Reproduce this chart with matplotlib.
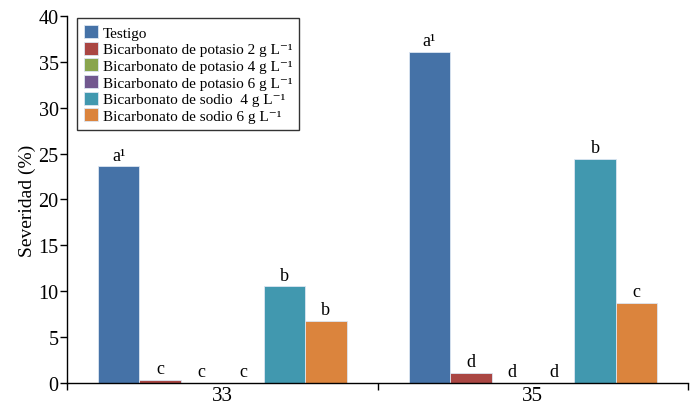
import numpy as np
import matplotlib
matplotlib.use("Agg")
import matplotlib.pyplot as plt

plt.rcParams['font.family'] = ['Liberation Serif', 'DejaVu Serif']

categories = ["33", "35"]
series_names = [
    "Testigo",
    "Bicarbonato de potasio 2 g L\u207b\u00b9",
    "Bicarbonato de potasio 4 g L\u207b\u00b9",
    "Bicarbonato de potasio 6 g L\u207b\u00b9",
    "Bicarbonato de sodio  4 g L\u207b\u00b9",
    "Bicarbonato de sodio 6 g L\u207b\u00b9",
]
testigo = [23.6, 36.1]
potasio_2 = [0.35, 1.1]
potasio_4 = [0.0, 0.0]
potasio_6 = [0.0, 0.0]
sodio_4 = [10.55, 24.4]
sodio_6 = [6.8, 8.75]
letters = [
    ["a\u00b9", "a\u00b9"],
    ["c", "d"],
    ["c", "d"],
    ["c", "d"],
    ["b", "b"],
    ["b", "c"],
]
colors = ["#4572A7", "#AA4643", "#89A54E", "#71588F", "#4198AF", "#DB843D"]

values = [testigo, potasio_2, potasio_4, potasio_6, sodio_4, sodio_6]

fig = plt.figure(figsize=(6.98, 4.10), dpi=100)
ax = fig.add_axes([0.096, 0.063, 0.890, 0.896])

x = np.arange(len(categories))
width = 0.8 / len(values)
for i, (vals, name, col) in enumerate(zip(values, series_names, colors)):
    pos = x - 0.4 + width * (i + 0.5)
    ax.bar(pos, vals, width, color=col, edgecolor="#dce6f2", linewidth=0.6, label=name)
    for p, v, lab in zip(pos, vals, letters[i]):
        ax.text(p, v + 0.3, lab, ha="center", va="bottom", fontsize=13)

ax.set_xlim(-0.5, 1.5)
ax.set_ylim(0, 40)
ax.set_yticks(np.arange(0, 41, 5))
ax.set_xticks(x)
ax.set_xticklabels(categories, fontsize=15)
ax.set_xticks([-0.5, 0.5, 1.5], minor=True)
ax.tick_params(axis="x", which="major", length=0, pad=2)
ax.tick_params(axis="x", which="minor", length=5, width=1, direction="out")
ax.tick_params(axis="y", labelsize=14.5, length=5, width=1, direction="out", pad=1)
ax.spines["top"].set_visible(False)
ax.spines["right"].set_visible(False)
ax.spines["left"].set_linewidth(1)
ax.spines["bottom"].set_linewidth(1)
ax.set_ylabel("Severidad (%)", fontsize=14, labelpad=2)

leg = ax.legend(loc="upper left", bbox_to_anchor=(0.016, 0.994), fontsize=11,
                frameon=True, fancybox=False, edgecolor="black",
                handlelength=0.95, handleheight=0.95, handletextpad=0.3,
                labelspacing=0.12, borderpad=0.45, borderaxespad=0)
leg.get_frame().set_linewidth(1)

fig.savefig("out.png", dpi=100)
